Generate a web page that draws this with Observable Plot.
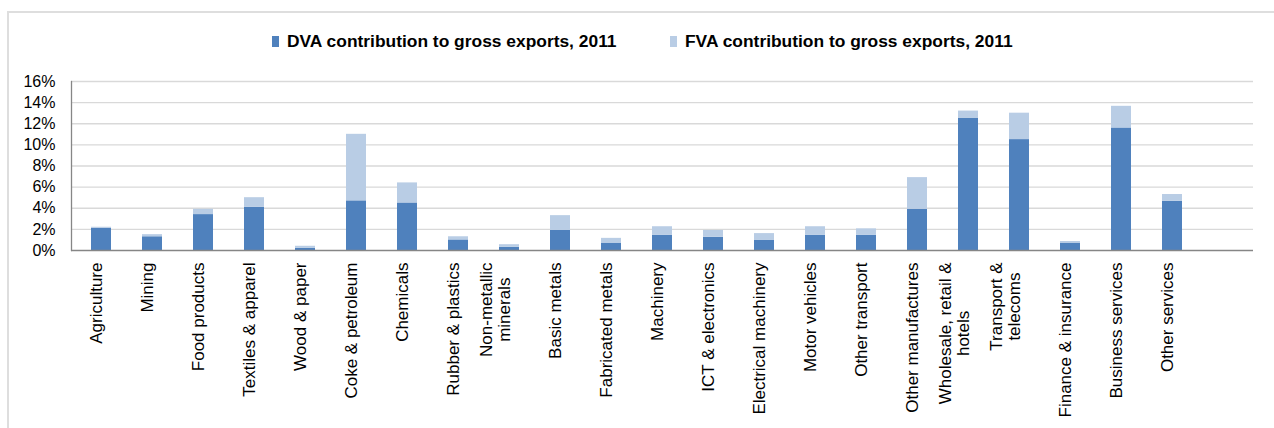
<!DOCTYPE html>
<html>
<head>
<meta charset="utf-8">
<script src="https://cdn.jsdelivr.net/npm/d3@7"></script>
<script src="https://cdn.jsdelivr.net/npm/@observablehq/plot@0.6"></script>
<style>
  html, body { margin: 0; padding: 0; background: #fff; }
  body { width: 1274px; height: 428px; position: relative; overflow: hidden; font-family: "Liberation Sans", Arial, sans-serif; }
  #frame { position: absolute; left: 7px; top: 11px; right: -10px; bottom: -10px; border-top: 2px solid #DEDEDE; border-left: 2px solid #DEDEDE; }
  #legend { position: absolute; top: 0; left: 0; width: 1274px; height: 60px; font-family: "Liberation Sans", Arial, sans-serif; font-weight: bold; font-size: 17.4px; color: #000; white-space: nowrap; }
  #legend .item { position: absolute; top: 31px; height: 20px; display: flex; align-items: center; }
  #legend .sw { width: 7px; height: 11px; display: inline-block; margin-right: 8px; }
  #legend .tx { display: inline-block; }
  #chart { position: absolute; left: 0; top: 60px; }
</style>
</head>
<body>
<div id="frame"></div>
<div id="legend"></div>
<div id="chart"></div>
<script>
const categories = [
  "Agriculture", "Mining", "Food products", "Textiles & apparel", "Wood & paper",
  "Coke & petroleum", "Chemicals", "Rubber & plastics", "Non-metallic\nminerals",
  "Basic metals", "Fabricated metals", "Machinery", "ICT & electronics",
  "Electrical machinery", "Motor vehicles", "Other transport", "Other manufactures",
  "Wholesale, retail &\nhotels", "Transport &\ntelecoms", "Finance & insurance",
  "Business services", "Other services"
];
const seriesNames = ["DVA contribution to gross exports, 2011", "FVA contribution to gross exports, 2011"];
const seriesColors = ["#4F81BD", "#B9CDE5"];
const dva = [2.1, 1.3, 3.4, 4.1, 0.2, 4.7, 4.5, 1.0, 0.3, 1.9, 0.7, 1.45, 1.25, 0.95, 1.45, 1.45, 3.9, 12.5, 10.5, 0.7, 11.6, 4.65];
const fva = [0.1, 0.2, 0.5, 0.9, 0.2, 6.3, 1.9, 0.3, 0.25, 1.4, 0.45, 0.8, 0.65, 0.65, 0.8, 0.6, 3.0, 0.7, 2.5, 0.15, 2.05, 0.65];
const yTicks = [0, 2, 4, 6, 8, 10, 12, 14, 16];

// long-format table for stacking
const rows = [];
categories.forEach((c, i) => {
  rows.push({cat: c, series: seriesNames[0], value: dva[i]});
  rows.push({cat: c, series: seriesNames[1], value: fva[i]});
});
// an empty trailing slot, as in the original
const xDomain = categories.concat([" "]);

// legend
const legend = document.getElementById("legend");
const legendLeft = [272, 670];
seriesNames.forEach((s, i) => {
  const it = document.createElement("div");
  it.className = "item";
  it.style.left = legendLeft[i] + "px";
  const sw = document.createElement("span");
  sw.className = "sw";
  sw.style.background = seriesColors[i];
  const tx = document.createElement("span");
  tx.className = "tx";
  tx.textContent = s;
  it.appendChild(sw); it.appendChild(tx);
  legend.appendChild(it);
});

const labelFont = 17;
const labelFamily = "Liberation Sans, Arial, sans-serif";
const ctx = document.createElement("canvas").getContext("2d");
ctx.font = `${labelFont}px "Liberation Sans"`;

const singleLabels = categories.filter(c => !c.includes("\n"));
const multiLabels = categories.filter(c => c.includes("\n"));

const labelMarks = [
  Plot.text(singleLabels, {
    x: d => d, text: d => d, frameAnchor: "bottom", rotate: -90,
    textAnchor: "end", dy: 12, fontSize: labelFont, fontFamily: labelFamily, fill: "#000"
  })
];
multiLabels.forEach(c => {
  const w = Math.max(...c.split("\n").map(l => ctx.measureText(l).width));
  labelMarks.push(Plot.text([c], {
    x: d => d, text: d => d, frameAnchor: "bottom", rotate: -90,
    textAnchor: "middle", lineHeight: 1.05, dy: 12 + w / 2,
    fontSize: labelFont, fontFamily: labelFamily, fill: "#000"
  }));
});

const chart = Plot.plot({
  width: 1274,
  height: 368,
  marginLeft: 71,
  marginRight: 21,
  marginTop: 21,
  marginBottom: 178,
  style: {fontFamily: "Liberation Sans, Arial, sans-serif", background: "transparent", color: "#000"},
  x: {domain: xDomain, paddingInner: 0.61, paddingOuter: 0.305, axis: null},
  y: {domain: [0, 16], axis: null},
  color: {domain: seriesNames, range: seriesColors},
  marks: [
    Plot.gridY(yTicks.filter(t => t > 0), {stroke: "#D9D9D9", strokeOpacity: 1, strokeWidth: 1.3}),
    Plot.barY(rows, {x: "cat", y: "value", fill: "series"}),
    Plot.axisY(yTicks, {tickSize: 0, tickPadding: 16, fontSize: 16, tickFormat: d => d + "%", label: null, fill: "#000"}),
    Plot.ruleY([0], {stroke: "#868686", strokeWidth: 1.3}),
    Plot.frame({anchor: "left", stroke: "#868686", strokeWidth: 1.3}),
    ...labelMarks
  ]
});
document.getElementById("chart").appendChild(chart);
</script>
</body>
</html>
